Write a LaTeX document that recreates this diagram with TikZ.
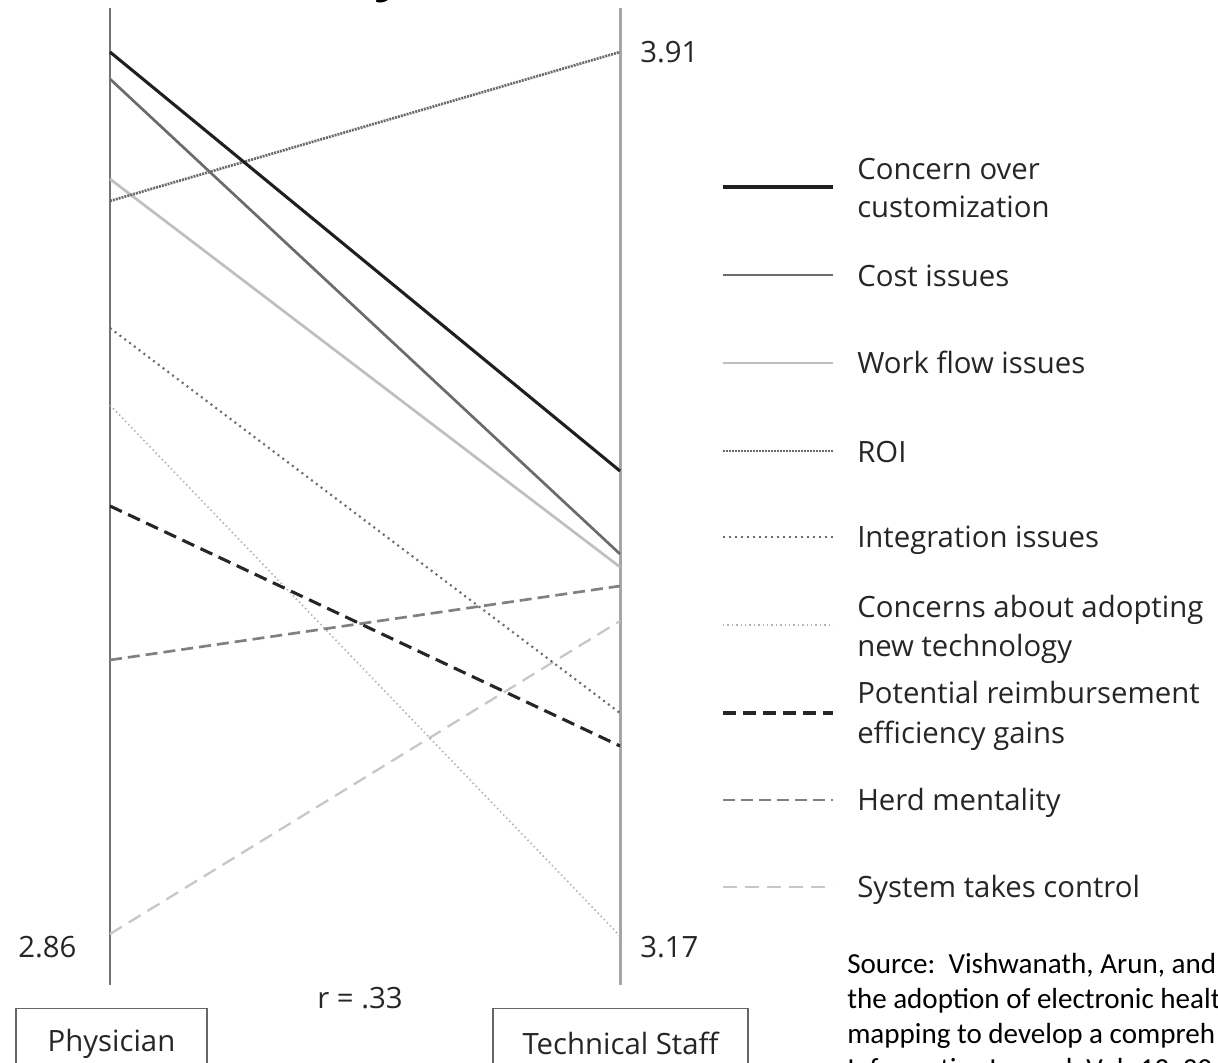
\documentclass[tikz,border=0pt]{standalone}
\usepackage{fontspec}
\setmainfont{Open Sans}
\newfontfamily\srcfont{Carlito}
\begin{document}
\begin{tikzpicture}[x=0.75pt,y=-0.75pt,
  lbl/.style={inner sep=0pt, anchor=base west, font=\fontsize{22pt}{27pt}\selectfont, text=black!85},
  srcline/.style={inner sep=0pt, anchor=base west, font=\srcfont\fontsize{21.8pt}{26pt}\selectfont, text=black},
  axisL/.style={draw=black!55, line width=1.5pt},
  axisR/.style={draw=black!35, line width=2.25pt},
  concern/.style={draw=black!88, line width=2.3pt},
  cost/.style={draw=black!58, line width=2pt},
  wflow/.style={draw=black!25, line width=2pt},
  roi/.style={draw=black!58, line width=2pt, dash pattern=on 1.5pt off 0.75pt},
  integ/.style={draw=black!58, line width=1.6pt, dash pattern=on 1.5pt off 3pt},
  adopt/.style={draw=black!30, line width=1.2pt, dash pattern=on 1.1pt off 2.2pt},
  reimb/.style={draw=black!85, line width=2.3pt, dash pattern=on 9.75pt off 5.25pt},
  herd/.style={draw=black!50, line width=2pt, dash pattern=on 9pt off 4.5pt},
  sys/.style={draw=black!22, line width=1.7pt, dash pattern=on 10.5pt off 6pt},
  ttlfont/.style={inner sep=0pt, anchor=base west, font=\fontsize{42pt}{50pt}\selectfont\bfseries\itshape},
  catbox/.style={draw=black!60, line width=1.1pt, inner sep=0pt, anchor=north, minimum height=52.5pt, font=\fontsize{22pt}{27pt}\selectfont, text=black!85}
]
\useasboundingbox (0,0) rectangle (1218,1063);
\begin{scope}
\clip (0,0) rectangle (1218,1063);
\fill[white] (0,0) rectangle (1218,1063);

% cropped title fragment
\node[ttlfont] (ttl) at (380,-10) {y};

% axes
\coordinate (LT) at (110,8);
\coordinate (LB) at (110,985);
\coordinate (RT) at (620,8);
\coordinate (RB) at (620,985);
\draw[axisL] (LT) -- (LB);
\draw[axisR] (RT) -- (RB);

% end points
\coordinate (L1) at (110,52);   \coordinate (R1) at (620,471);
\coordinate (L2) at (110,79);   \coordinate (R2) at (620,554);
\coordinate (L3) at (110,179);  \coordinate (R3) at (620,567);
\coordinate (L4) at (110,201);  \coordinate (R4) at (620,52);
\coordinate (L5) at (110,328);  \coordinate (R5) at (620,713);
\coordinate (L6) at (110,405);  \coordinate (R6) at (620,936);
\coordinate (L7) at (110,506);  \coordinate (R7) at (620,746);
\coordinate (L8) at (110,660);  \coordinate (R8) at (620,586);
\coordinate (L9) at (110,934);  \coordinate (R9) at (620,621);

\draw[sys] (L9) -- (R9);
\draw[herd] (L8) -- (R8);
\draw[adopt] (L6) -- (R6);
\draw[integ] (L5) -- (R5);
\draw[reimb] (L7) -- (R7);
\draw[wflow] (L3) -- (R3);
\draw[roi] (L4) -- (R4);
\draw[cost] (L2) -- (R2);
\draw[concern] (L1) -- (R1);

% value labels
\node[lbl] (v391) at (640,63) {3.91};
\node[lbl] (v286) at (18,957) {2.86};
\node[lbl] (v317) at (640,957) {3.17};
\node[lbl, anchor=base] (rval) at (360,1008) {r = .33};

% category boxes
\node[catbox, minimum width=143.25pt] (phys) at (111.5,1008) {Physician};
\node[catbox, minimum width=191.25pt] (tech) at (620.5,1008) {Technical Staff};

% legend
\coordinate (k1a) at (723,187); \coordinate (k1b) at (833,187);
\coordinate (k2a) at (723,275); \coordinate (k2b) at (833,275);
\coordinate (k3a) at (723,363); \coordinate (k3b) at (833,363);
\coordinate (k4a) at (723,451); \coordinate (k4b) at (833,451);
\coordinate (k5a) at (723,537); \coordinate (k5b) at (833,537);
\coordinate (k6a) at (723,625); \coordinate (k6b) at (833,625);
\coordinate (k7a) at (723,713); \coordinate (k7b) at (833,713);
\coordinate (k8a) at (723,800); \coordinate (k8b) at (833,800);
\coordinate (k9a) at (723,887); \coordinate (k9b) at (833,887);
\draw[concern] (k1a) -- (k1b);
\draw[cost] (k2a) -- (k2b);
\draw[wflow] (k3a) -- (k3b);
\draw[roi] (k4a) -- (k4b);
\draw[integ] (k5a) -- (k5b);
\draw[adopt] (k6a) -- (k6b);
\draw[reimb] (k7a) -- (k7b);
\draw[herd] (k8a) -- (k8b);
\draw[sys] (k9a) -- (k9b);

\node[lbl] (t1a) at (857,179) {Concern over};
\node[lbl] (t1b) at (857,217) {customization};
\node[lbl] (t2) at (857,286) {Cost issues};
\node[lbl] (t3) at (857,373) {Work flow issues};
\node[lbl] (t4) at (857,462) {ROI};
\node[lbl] (t5) at (857,547) {Integration issues};
\node[lbl] (t6a) at (857,617) {Concerns about adopting};
\node[lbl] (t6b) at (857,656) {new technology};
\node[lbl] (t7a) at (857,703) {Potential reimbursement};
\node[lbl] (t7b) at (857,743) {efficiency gains};
\node[lbl] (t8) at (857,810) {Herd mentality};
\node[lbl] (t9) at (857,897) {System takes control};

% source
\node[srcline] (s1) at (847,973) {Source:\ \ Vishwanath, Arun, and};
\node[srcline] (s2) at (847,1008) {the adoption of electronic healt};
\node[srcline] (s3) at (847,1043) {mapping to develop a compreh};
\node[srcline] (s4) at (847,1078) {Informatics Journal, Vol. 13, 20};
\end{scope}
\end{tikzpicture}
\end{document}
